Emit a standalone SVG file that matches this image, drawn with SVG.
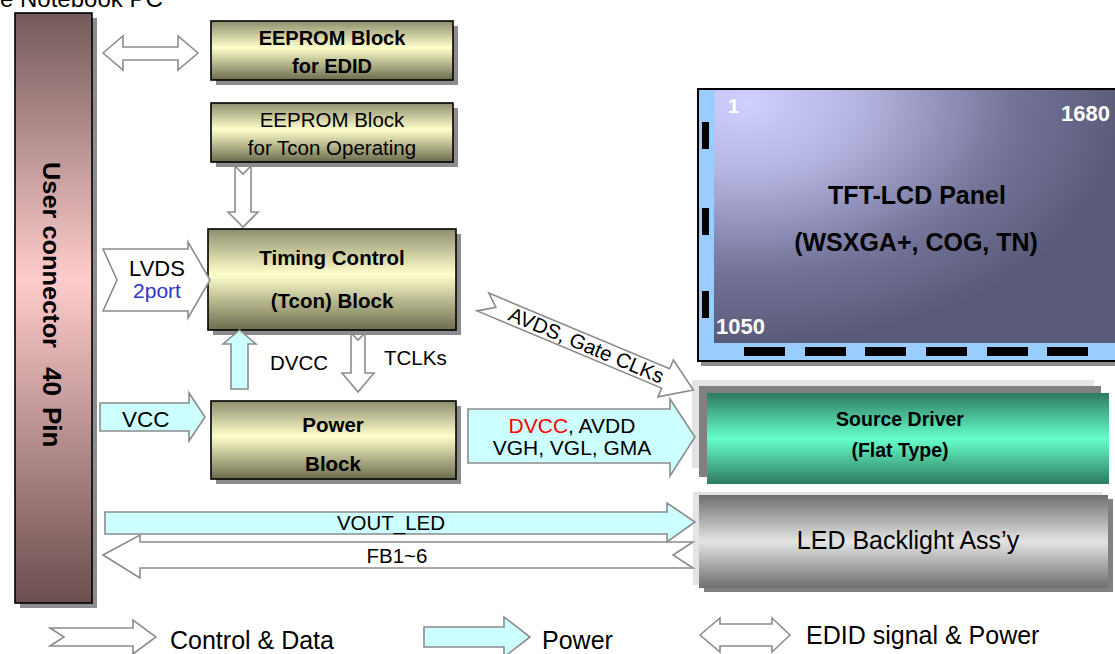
<svg xmlns="http://www.w3.org/2000/svg" width="1115" height="654" viewBox="0 0 1115 654">
<style>
text{font-family:"Liberation Sans",Arial,sans-serif;fill:#000}
.b{font-weight:bold}
.ctl{fill:#fff;stroke:#8c8c8c;stroke-width:1.6;stroke-linejoin:miter}
.pwr{fill:#ccffff;stroke:#8c8c8c;stroke-width:1.6;stroke-linejoin:miter}
.box{stroke:#000;stroke-width:1.6}
.sh{fill:#8c8c8c}
.wt{fill:#fff;font-weight:bold}
</style>
<defs>
<linearGradient id="gYel" x1="0" y1="0" x2="0" y2="1">
<stop offset="0" stop-color="#8e8e6e"/><stop offset="0.45" stop-color="#ffffcc"/><stop offset="1" stop-color="#6c6c4e"/>
</linearGradient>
<linearGradient id="gCon" x1="0" y1="0" x2="0" y2="1">
<stop offset="0" stop-color="#735a5a"/><stop offset="0.45" stop-color="#ffcccc"/><stop offset="1" stop-color="#6b4e4e"/>
</linearGradient>
<linearGradient id="gGrn" x1="0" y1="0" x2="0" y2="1">
<stop offset="0" stop-color="#2e7a5e"/><stop offset="0.5" stop-color="#66ffcc"/><stop offset="1" stop-color="#2e7a5e"/>
</linearGradient>
<linearGradient id="gGry" x1="0" y1="0" x2="0" y2="1">
<stop offset="0" stop-color="#6e6e6e"/><stop offset="0.5" stop-color="#e4e4e4"/><stop offset="1" stop-color="#6e6e6e"/>
</linearGradient>
<radialGradient id="gPan" cx="0.08" cy="0.05" r="0.95">
<stop offset="0" stop-color="#d0d0ff"/><stop offset="0.3" stop-color="#b4b4e0"/><stop offset="0.7" stop-color="#74749a"/><stop offset="1" stop-color="#5a5a78"/>
</radialGradient>
</defs>

<text x="0" y="7" font-size="24">e Notebook PC</text>

<g id="user-connector">
<rect class="sh" x="20" y="18" width="77" height="590"/>
<rect class="box" x="15" y="13" width="77" height="590" fill="url(#gCon)"/>
<text class="b" font-size="24" transform="translate(43,162) rotate(90)" textLength="186" lengthAdjust="spacingAndGlyphs">User connector</text>
<text class="b" font-size="26" transform="translate(43,367) rotate(90)">40</text>
<text class="b" font-size="26" transform="translate(43,407) rotate(90)">Pin</text>
</g>

<g id="eeprom-edid">
<rect class="sh" x="216" y="26" width="242" height="59"/>
<rect class="box" x="211" y="21" width="242" height="59" fill="url(#gYel)"/>
<text class="b" font-size="20" x="332" y="45" text-anchor="middle">EEPROM Block</text>
<text class="b" font-size="20" x="332" y="73" text-anchor="middle">for EDID</text>
</g>

<g id="eeprom-tcon">
<rect class="sh" x="216" y="108" width="242" height="59"/>
<rect class="box" x="211" y="103" width="242" height="59" fill="url(#gYel)"/>
<text font-size="20.5" x="332" y="127" text-anchor="middle">EEPROM Block</text>
<text font-size="20.5" x="332" y="155" text-anchor="middle">for Tcon Operating</text>
</g>

<g id="tcon">
<rect class="sh" x="213" y="234" width="248" height="101"/>
<rect class="box" x="208" y="229" width="248" height="101" fill="url(#gYel)"/>
<text class="b" font-size="20.5" x="332" y="265" text-anchor="middle">Timing Control</text>
<text class="b" font-size="20.5" x="332" y="308" text-anchor="middle">(Tcon) Block</text>
</g>

<g id="power-block">
<rect class="sh" x="216" y="406" width="245" height="78"/>
<rect class="box" x="211" y="401" width="245" height="78" fill="url(#gYel)"/>
<text class="b" font-size="20.5" x="333" y="432" text-anchor="middle">Power</text>
<text class="b" font-size="20.5" x="333" y="471" text-anchor="middle">Block</text>
</g>

<g id="tft-lcd-panel">
<rect class="sh" x="701" y="92" width="418" height="274"/>
<rect x="697" y="88" width="418" height="274" fill="#000"/>
<rect x="699" y="90" width="416" height="270" fill="#99ccff"/>
<rect x="714" y="90" width="401" height="253" fill="url(#gPan)"/>
<g fill="#000">
<rect x="702" y="122" width="7" height="27"/>
<rect x="702" y="208" width="7" height="27"/>
<rect x="702" y="291" width="7" height="27"/>
<rect x="744" y="347" width="41" height="9"/>
<rect x="805" y="347" width="41" height="9"/>
<rect x="865" y="347" width="41" height="9"/>
<rect x="926" y="347" width="41" height="9"/>
<rect x="987" y="347" width="41" height="9"/>
<rect x="1047" y="347" width="41" height="9"/>
</g>
<text class="wt" font-size="20" x="728" y="113">1</text>
<text class="wt" font-size="22" x="1110" y="121" text-anchor="end">1680</text>
<text class="wt" font-size="22" x="716" y="334">1050</text>
<text class="b" font-size="25" x="917" y="204" text-anchor="middle">TFT-LCD Panel</text>
<text class="b" font-size="25" x="916" y="251" text-anchor="middle">(WSXGA+, COG, TN)</text>
</g>

<g id="source-driver">
<rect x="692" y="380" width="402" height="88" fill="#e4e4e4"/>
<rect x="699" y="386" width="402" height="91" fill="#808080"/>
<rect x="707" y="393" width="402" height="91" fill="url(#gGrn)"/>
<text class="b" font-size="19.5" x="900" y="426" text-anchor="middle">Source Driver</text>
<text class="b" font-size="19.5" x="900" y="457" text-anchor="middle">(Flat Type)</text>
</g>

<g id="led-backlight">
<rect x="693" y="492" width="410" height="93" fill="#e4e4e4"/>
<rect x="704" y="499" width="409" height="93" fill="#808080"/>
<rect x="699" y="495" width="409" height="93" fill="url(#gGry)"/>
<text font-size="25" x="908" y="549" text-anchor="middle">LED Backlight Ass’y</text>
</g>

<g id="connectors">
<path class="ctl" d="M103,53 L123,36 L123,47 L178,47 L178,36 L198,53 L178,70 L178,60 L123,60 L123,70 Z"/>
<path class="ctl" d="M235,166 L243,174 L251,166 L251,212 L258,212 L243,227 L228,212 L235,212 Z"/>
<path class="ctl" d="M103,249 L188,249 L188,242 L210,280 L188,318 L188,311 L103,311 L117,280 Z"/>
<text font-size="22" x="157" y="276" text-anchor="middle">LVDS</text>
<text font-size="21" x="157" y="298" text-anchor="middle" style="fill:#3333cc">2port</text>
<path class="pwr" d="M231,389 L231,344 L223,344 L239.5,330 L256,344 L248,344 L248,389 Z"/>
<text font-size="20.5" x="270" y="370">DVCC</text>
<path class="ctl" d="M351,333 L358,340 L365,333 L365,373 L374,373 L358,392 L342,373 L351,373 Z"/>
<text font-size="20.5" x="384" y="365">TCLKs</text>
<path class="pwr" d="M100,403 L189,403 L189,393 L205,417 L189,441 L189,431 L100,431 Z"/>
<text font-size="22.5" x="122" y="427">VCC</text>
<path class="pwr" d="M468,409 L670,409 L670,399 L695,437 L670,476 L670,463 L468,463 Z"/>
<text font-size="21" x="572" y="433" text-anchor="middle"><tspan style="fill:#ff0000">DVCC</tspan>, AVDD</text>
<text font-size="21" x="572" y="455" text-anchor="middle">VGH, VGL, GMA</text>
<g transform="translate(483,302) rotate(22.7)">
<path class="ctl" d="M2,-10.5 L198,-10.5 L198,-20 L228,0 L198,20 L198,10.5 L-2,10.5 L14,0 Z"/>
<text font-size="20.5" x="112" y="7" text-anchor="middle">AVDS, Gate CLKs</text>
</g>
<path class="ctl" d="M103,555 L140,535 L140,542 L693,542 L673,555 L693,568 L140,568 L140,578 Z"/>
<text font-size="20.5" x="397" y="563" text-anchor="middle">FB1~6</text>
<path class="pwr" d="M105,512 L667,512 L667,503 L695,522 L667,542 L667,534 L105,534 Z"/>
<text font-size="20.5" x="391" y="530" text-anchor="middle">VOUT_LED</text>
</g>

<g id="legend">
<path class="ctl" d="M50,628 L133,628 L133,620 L156,637 L133,654 L133,646 L50,646 L64,637 Z"/>
<text font-size="25" x="170" y="649">Control &amp; Data</text>
<path class="pwr" d="M424,627 L504,627 L504,617 L530,637 L504,657 L504,647 L424,647 Z"/>
<text font-size="25" x="542" y="649">Power</text>
<path class="ctl" d="M700,635 L720,618 L720,624 L772,624 L772,618 L790,635 L772,652 L772,646 L720,646 L720,652 Z"/>
<text font-size="25" x="806" y="644">EDID signal &amp; Power</text>
</g>
</svg>
